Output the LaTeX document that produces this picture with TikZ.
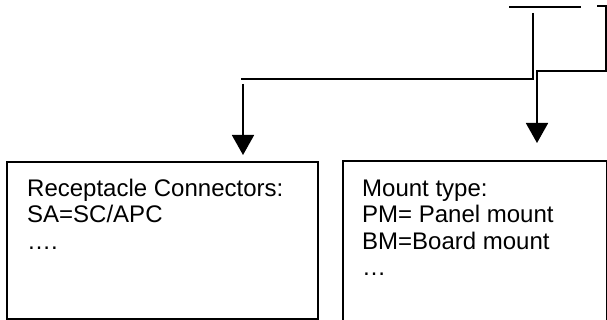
\documentclass[tikz,border=0pt]{standalone}
\usepackage{fontspec}
\setmainfont{Liberation Sans}
\usetikzlibrary{arrows.meta}
\begin{document}
\begin{tikzpicture}[x=1pt,y=-1pt,
  wire/.style={line width=1.8pt,line join=miter},
  box/.style={draw,line width=1.8pt,inner sep=0pt,anchor=north west},
  txt/.style={anchor=base west,inner sep=0pt,font=\fontsize{24}{28}\selectfont},
  tip/.style={-{Triangle[length=20pt,width=22pt]}}]
\useasboundingbox (0,0) rectangle (607,320);
\clip (0,0) rectangle (607,320);
% boxes
\node[box,minimum width=311pt,minimum height=157pt] (lbox) at (6,161) {};
\node[box,minimum width=264pt,minimum height=175pt] (rbox) at (342,160) {};
% texts
\node[txt] (l1) at (27,197) {Receptacle Connectors:};
\node[txt] (l2) at (27,223) {SA=SC/APC};
\node[txt] (l3) at (27,249) {….};
\node[txt] (r1) at (362,197) {Mount type:};
\node[txt] (r2) at (362,223) {PM= Panel mount};
\node[txt] (r3) at (362,249) {BM=Board mount};
\node[txt] (r4) at (362,275) {…};
% connectors
\coordinate (t1) at (509,7);
\coordinate (t2) at (581,7);
\draw[wire] (t1) -- (t2);
\coordinate (a0) at (533,13);
\coordinate (a1) at (241,79);
\draw[wire] (a0) |- (a1);
\coordinate (b0) at (243,84);
\coordinate (b1) at (243,155);
\draw[wire,tip] (b0) -- (b1);
\coordinate (c0) at (597,6);
\coordinate (c1) at (606,6);
\coordinate (c2) at (606,71);
\coordinate (c3) at (537,143);
\draw[wire,tip] (c0) -- (c1) -- (c2) -| (c3);
\end{tikzpicture}
\end{document}
